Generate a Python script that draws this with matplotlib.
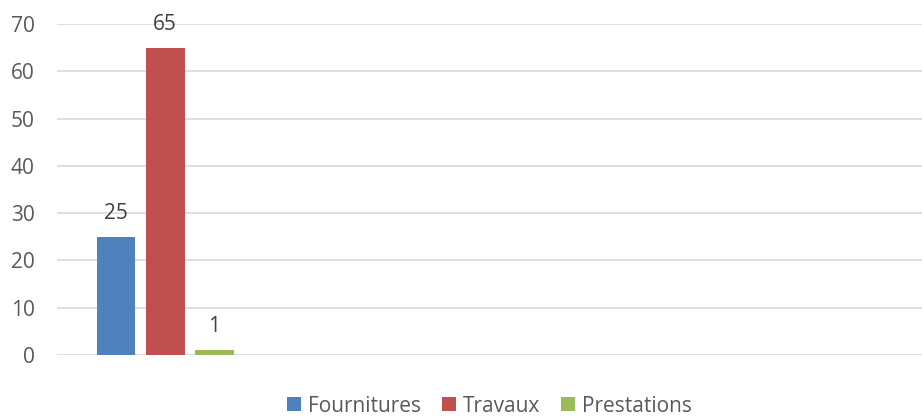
import numpy as np
import matplotlib
matplotlib.use("Agg")
import matplotlib.pyplot as plt

plt.rcParams['font.family'] = ['Open Sans', 'DejaVu Sans']

categories = ['', '', '', '']
series_names = ['Fournitures', 'Travaux', 'Prestations']
fournitures = [25, np.nan, np.nan, np.nan]
travaux = [65, np.nan, np.nan, np.nan]
prestations = [1, np.nan, np.nan, np.nan]
colors = ['#4f81bd', '#c0504d', '#9bbb59']
yticks = [0, 10, 20, 30, 40, 50, 60, 70]

fig = plt.figure(figsize=(9.22, 4.17), dpi=100)
ax = fig.add_axes([57/922, 1 - 355/417, 1 - 57/922, (355 - 24)/417])

x = np.arange(len(categories)) + 0.5
bw = 0.18
pitch = 0.227
text_col = '#595959'
fs = 15
for i, (name, vals, c) in enumerate(zip(series_names, [fournitures, travaux, prestations], colors)):
    xs = x + (i - 1) * pitch
    v = np.array(vals, dtype=float)
    ax.bar(xs, np.nan_to_num(v), width=bw, color=c, label=name, zorder=3)
    for xi, vi in zip(xs, v):
        if not np.isnan(vi):
            ax.annotate(f"{vi:g}", (xi, vi), xytext=(0, 13), textcoords='offset points',
                        ha='center', va='baseline', fontsize=fs, color='#404040')

ax.set_xlim(0, len(categories))
ax.set_ylim(0, 70)
ax.set_yticks(yticks)
ax.set_xticks(x)
ax.set_xticklabels(categories)
ax.tick_params(axis='x', length=0)
ax.tick_params(axis='y', length=0, pad=16, labelsize=fs, labelcolor=text_col)
ax.grid(axis='y', color='#d9d9d9', linewidth=1.2, zorder=0)
for s in ax.spines.values():
    s.set_visible(False)

leg = ax.legend(loc='center', bbox_to_anchor=(0.5, -51 / 331), ncol=3, frameon=False,
                fontsize=fs, handlelength=0.67, handleheight=0.67, handletextpad=0.35,
                columnspacing=1.0, labelcolor=text_col, borderpad=0)

fig.savefig('out.png', dpi=100)
